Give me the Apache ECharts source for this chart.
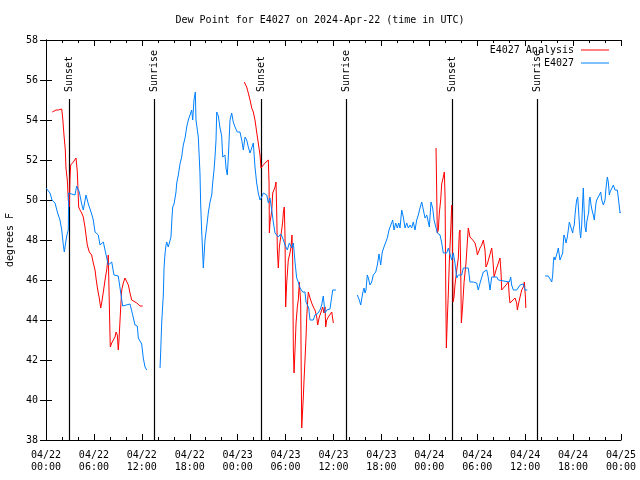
<!DOCTYPE html>
<html>
<head>
<meta charset="utf-8">
<script src="https://cdn.jsdelivr.net/npm/echarts@6/dist/echarts.min.js"></script>
<style>html,body{margin:0;padding:0;background:#fff}#c{width:640px;height:480px}</style>
</head>
<body>
<div id="c"></div>
<script>
// hours since 2024-04-22 00:00 UTC, dew point (F)
const obsSeg1 = [[0.0,50.6],[0.25,50.58],[0.5,50.35],[0.75,50.0],[1.13,49.85],[1.42,49.4],[1.75,49.0],[1.97,48.5],[2.17,47.75],[2.29,47.4],[2.59,48.2],[2.79,48.5],[2.84,50.35],[3.22,50.3],[3.63,50.25],[3.84,50.7],[4.17,50.4],[4.47,49.8],[4.67,49.5],[5.01,50.25],[5.3,49.8],[5.72,49.3],[5.92,49.0],[6.14,48.4],[6.55,48.25],[6.76,47.75],[7.18,47.9],[7.39,47.5],[7.8,46.75],[8.23,46.9],[8.51,46.25],[9.05,46.2],[9.27,45.6],[9.6,44.7],[10.52,44.8],[10.86,44.25],[11.14,43.75],[11.43,43.7],[11.56,43.1],[11.98,42.8],[12.18,42.1],[12.4,41.65],[12.61,41.5]];
const obsSeg2 = [[14.28,41.6],[14.36,42.4],[14.49,43.9],[14.69,45.25],[14.78,46.6],[14.9,47.3],[15.03,47.75],[15.11,47.9],[15.31,47.65],[15.53,47.65],[15.65,48.15],[15.78,49.15],[15.87,49.65],[16.03,49.8],[16.28,50.4],[16.37,50.85],[16.57,51.25],[16.78,51.8],[16.99,52.15],[17.19,52.75],[17.41,53.1],[17.62,53.65],[17.82,54.0],[18.03,54.25],[18.24,54.5],[18.37,54.0],[18.53,55.0],[18.7,55.4],[18.78,54.0],[19.07,53.15],[19.28,51.35],[19.37,49.75],[19.5,48.4],[19.62,47.35],[19.7,46.6],[19.91,48.0],[20.12,48.65],[20.32,49.35],[20.54,49.9],[20.75,50.25],[20.87,50.85],[21.04,51.5],[21.16,52.15],[21.29,53.0],[21.38,54.4],[21.58,54.2],[21.79,53.6],[22.0,53.2],[22.13,52.15],[22.41,52.25],[22.54,51.6],[22.7,51.25],[22.83,52.15],[23.04,54.0],[23.25,54.35],[23.45,53.9],[23.67,53.65],[23.95,53.4],[24.29,53.4],[24.51,53.0],[24.71,52.5],[24.92,53.15],[25.13,53.0],[25.33,52.65],[25.55,52.35],[25.76,52.35],[25.96,52.85],[26.17,51.65],[26.38,50.85],[26.58,50.35],[26.8,50.0],[27.01,50.15],[27.21,50.35],[27.64,50.25],[27.84,49.85],[28.05,50.1],[28.26,49.5],[28.46,48.9],[28.68,48.35],[28.89,48.4],[29.09,48.15],[29.39,48.3],[29.64,48.1],[29.93,47.75],[30.22,47.5],[30.47,47.85],[30.77,47.6],[30.97,47.85],[31.18,46.9],[31.39,46.1],[31.59,45.9],[31.81,45.6],[32.14,45.4],[32.43,45.4],[32.56,44.9],[32.72,44.9],[32.9,44.6],[33.06,44.0],[33.47,44.0],[33.68,44.25],[33.97,44.3],[34.31,44.5],[34.52,44.75],[34.72,45.2],[34.85,45.2],[34.94,44.35],[35.15,44.5],[35.56,44.55],[35.78,44.5],[35.9,45.5],[36.31,45.5]];
const obsSeg3 = [[38.98,45.25],[39.23,45.0],[39.41,44.75],[39.53,44.65],[39.66,45.35],[39.82,45.6],[39.95,45.35],[40.07,45.5],[40.23,46.25],[40.36,46.1],[40.57,45.75],[40.78,45.9],[40.98,46.25],[41.29,46.4],[41.49,46.75],[41.7,47.3],[41.91,46.75],[42.11,47.4],[42.32,47.65],[42.54,47.75],[42.74,48.1],[42.95,48.5],[43.16,48.6],[43.41,49.0],[43.58,48.5],[43.79,48.85],[43.99,48.6],[44.17,48.85],[44.33,48.6],[44.54,49.5],[44.74,49.15],[44.96,48.6],[45.17,48.85],[45.37,48.6],[45.58,48.75],[45.79,48.6],[45.99,48.9],[46.21,48.5],[46.42,49.0],[46.62,49.25],[46.83,49.6],[47.05,49.9],[47.25,49.85],[47.46,49.1],[47.68,49.25],[47.87,48.9],[48.0,48.65],[48.21,49.9],[48.42,49.6],[48.59,49.0],[48.84,49.0],[49.0,48.35],[49.34,48.25],[49.55,47.85],[49.75,47.35],[50.18,47.35],[50.38,47.6],[50.59,47.6],[50.8,47.0],[51.0,47.35],[51.21,46.85],[51.43,46.1],[51.63,46.25],[52.05,46.25],[52.26,46.6],[52.88,46.6],[53.09,45.9],[53.51,45.9],[53.72,46.0],[53.93,45.85],[54.13,45.5],[54.35,45.85],[54.56,45.85],[54.76,46.4],[54.97,46.5],[55.19,46.5],[55.39,46.1],[55.6,45.5],[55.81,46.15],[56.44,46.15],[56.64,46.0],[56.85,45.9],[58.02,45.9],[58.19,46.15],[58.31,45.75],[58.52,45.5],[58.94,45.5],[59.15,45.6],[59.36,45.75],[59.77,45.8],[59.98,45.5],[60.27,45.5]];
const obsSeg4 = [[62.49,46.2],[62.9,46.2],[63.11,46.1],[63.33,45.9],[63.45,46.25],[63.53,46.85],[63.61,47.15],[63.74,47.0],[63.95,47.05],[64.03,47.4],[64.15,47.6],[64.36,47.0],[64.58,47.0],[64.7,47.35],[64.78,47.9],[64.86,48.25],[64.99,48.1],[65.12,47.85],[65.28,48.15],[65.4,48.5],[65.53,48.9],[65.7,48.85],[65.83,48.5],[65.95,48.35],[66.03,48.6],[66.15,48.75],[66.24,49.25],[66.37,49.75],[66.45,50.0],[66.58,50.15],[66.7,49.4],[66.78,48.85],[66.87,48.35],[66.95,48.1],[67.08,48.75],[67.21,50.0],[67.28,50.6],[67.37,49.65],[67.49,48.65],[67.62,48.4],[67.71,48.9],[67.83,49.0],[67.96,49.4],[68.03,50.0],[68.12,50.15],[68.25,49.75],[68.37,49.5],[68.53,49.25],[68.66,49.0],[68.75,49.4],[68.87,49.85],[68.96,50.0],[69.16,50.0],[69.29,50.25],[69.46,50.4],[69.59,50.0],[69.79,49.75],[69.87,49.7],[70.0,50.0],[70.12,50.6],[70.29,51.15],[70.41,50.9],[70.54,50.25],[70.63,50.4],[70.84,50.5],[71.04,50.75],[71.25,50.5],[71.46,50.6],[71.54,50.5],[71.67,50.1],[71.79,50.0],[71.88,49.35],[71.96,49.4]];

const anaSeg1 = [[0.79,54.4],[1.0,54.35],[1.25,54.5],[1.54,54.5],[1.75,54.6],[1.97,54.55],[2.09,54.1],[2.25,53.25],[2.42,52.5],[2.5,51.6],[2.67,51.0],[2.79,50.0],[2.92,49.65],[3.01,51.15],[3.09,51.75],[3.42,51.9],[3.76,52.1],[3.92,51.4],[4.01,50.5],[4.09,49.65],[4.26,49.5],[4.47,49.35],[4.67,49.15],[4.88,48.65],[5.01,48.25],[5.17,47.75],[5.42,47.4],[5.72,47.25],[5.92,46.85],[6.14,46.5],[6.26,46.1],[6.42,45.65],[6.55,45.35],[6.67,45.1],[6.85,44.6],[6.97,44.85],[7.18,45.4],[7.39,46.0],[7.6,46.5],[7.8,47.25],[7.89,45.5],[7.98,43.85],[8.05,42.65],[8.23,42.85],[8.43,43.0],[8.64,43.15],[8.77,43.4],[8.85,43.5],[8.93,43.25],[9.05,42.5],[9.14,43.0],[9.27,44.0],[9.39,44.9],[9.48,45.5],[9.68,45.85],[9.89,46.1],[10.11,46.1],[10.31,45.75],[10.52,45.35],[10.73,45.0],[10.93,44.9],[11.36,44.85],[11.77,44.7],[12.11,44.7]];
const anaSeg2 = [[24.83,55.9],[25.0,56.0],[25.13,55.65],[25.33,55.35],[25.55,55.0],[25.76,54.6],[25.96,54.4],[26.17,54.0],[26.38,53.4],[26.58,52.85],[26.8,52.25],[26.92,51.6],[27.21,51.75],[27.55,51.9],[27.84,52.0],[27.93,50.85],[27.97,48.35],[28.05,48.9],[28.26,49.4],[28.39,50.35],[28.68,50.65],[28.8,50.9],[28.89,49.35],[28.97,47.5],[29.09,46.6],[29.22,47.65],[29.39,48.15],[29.64,48.9],[29.72,49.4],[29.84,49.65],[29.93,48.15],[30.01,44.65],[30.14,45.85],[30.34,47.0],[30.55,47.35],[30.68,47.65],[30.8,48.25],[30.89,47.0],[30.97,42.5],[31.06,41.35],[31.18,42.5],[31.31,43.85],[31.47,44.65],[31.59,45.0],[31.72,45.9],[31.81,45.35],[31.89,44.9],[31.97,40.85],[32.02,38.6],[32.09,39.15],[32.22,40.15],[32.31,41.0],[32.43,42.0],[32.56,43.15],[32.65,44.15],[32.77,45.0],[32.85,45.4],[33.06,45.1],[33.27,44.85],[33.47,44.65],[33.68,44.5],[33.9,44.15],[34.02,43.75],[34.22,44.15],[34.4,44.35],[34.65,44.65],[34.81,44.35],[34.94,44.65],[35.02,43.65],[35.15,44.0],[35.35,44.15],[35.56,44.25],[35.78,44.4],[35.9,44.35],[35.98,43.85]];
const anaSeg3 = [[48.84,52.6],[48.92,50.5],[49.0,48.35],[49.12,48.5],[49.25,49.35],[49.42,50.0],[49.55,50.8],[49.75,51.15],[49.88,51.4],[49.97,50.15],[50.06,45.35],[50.13,42.6],[50.26,44.15],[50.38,45.35],[50.51,47.0],[50.68,48.5],[50.8,49.75],[50.88,48.65],[50.97,44.9],[51.09,45.15],[51.21,45.75],[51.43,46.5],[51.63,47.1],[51.75,48.35],[51.84,48.5],[51.93,46.5],[52.01,43.85],[52.18,44.75],[52.34,45.85],[52.59,46.85],[52.75,47.85],[52.88,48.6],[53.09,48.15],[53.43,48.0],[53.72,47.85],[53.93,47.5],[54.01,47.25],[54.13,47.35],[54.35,47.6],[54.56,47.75],[54.76,48.0],[54.97,47.5],[55.09,46.65],[55.26,46.8],[55.51,46.9],[55.81,47.6],[55.94,47.1],[56.11,46.15],[56.35,46.5],[56.64,46.85],[56.85,47.1],[56.98,46.35],[57.06,45.5],[57.26,45.6],[57.6,45.75],[57.89,45.9],[58.02,45.15],[58.1,44.85],[58.31,44.9],[58.73,45.1],[58.94,44.85],[59.02,44.5],[59.19,44.85],[59.36,45.15],[59.57,45.5],[59.77,45.65],[59.9,45.9],[60.03,45.15],[60.08,44.6]];

const sunTimes = [2.92, 13.56, 26.96, 37.57, 50.88, 61.52];
const sunLabels = ['Sunset', 'Sunrise', 'Sunset', 'Sunrise', 'Sunset', 'Sunrise'];
const tickLabels = ['04/22\n00:00','04/22\n06:00','04/22\n12:00','04/22\n18:00','04/23\n00:00','04/23\n06:00','04/23\n12:00','04/23\n18:00','04/24\n00:00','04/24\n06:00','04/24\n12:00','04/24\n18:00','04/25\n00:00'];
const yTicks = [38, 40, 42, 44, 46, 48, 50, 52, 54, 56, 58];

function joinSegs(segs) {
  const out = [];
  segs.forEach((s, i) => {
    if (i > 0) out.push([s[0][0] - 0.01, null]);
    s.forEach(p => out.push(p));
  });
  return out;
}
const FONT = '"DejaVu Sans Mono", "Liberation Mono", monospace';
const chart = echarts.init(document.getElementById('c'), null, {renderer: 'canvas'});
const xCommon = {
  type: 'value', min: 0, max: 72, interval: 6,
  axisLine: {show: true, lineStyle: {color: '#000', width: 1}},
  axisTick: {show: true, inside: true, length: 6, lineStyle: {color: '#000'}},
  minorTick: {show: true, splitNumber: 3, length: 3, lineStyle: {color: '#000'}},
  splitLine: {show: false}, minorSplitLine: {show: false}
};
const yCommon = {
  type: 'value', min: yTicks[0], max: yTicks[yTicks.length - 1], interval: 2,
  axisLine: {show: true, lineStyle: {color: '#000', width: 1}},
  axisTick: {show: true, inside: true, length: 6, lineStyle: {color: '#000'}},
  splitLine: {show: false}
};
chart.setOption({
  animation: false,
  backgroundColor: '#fff',
  title: {
    text: 'Dew Point for E4027 on 2024-Apr-22 (time in UTC)',
    left: 'center', top: 10,
    textStyle: {fontFamily: FONT, fontSize: 10, fontWeight: 'normal', color: '#000'}
  },
  grid: {left: 46, right: 19, top: 40, bottom: 40, containLabel: false, outerBoundsMode: 'none'},
  legend: [
    {data: ['E4027 Analysis'], right: 31, top: 45, align: 'right', itemWidth: 28, itemHeight: 1, itemGap: 0,
     icon: 'rect', textStyle: {fontFamily: FONT, fontSize: 10, color: '#000', padding: [0, 2, 0, 0]}, padding: 0},
    {data: ['E4027'], right: 31, top: 58, align: 'right', itemWidth: 28, itemHeight: 1, itemGap: 0,
     icon: 'rect', textStyle: {fontFamily: FONT, fontSize: 10, color: '#000', padding: [0, 2, 0, 0]}, padding: 0}
  ],
  xAxis: [
    Object.assign({}, xCommon, {position: 'bottom',
      axisLabel: {show: true, margin: 9, fontFamily: FONT, fontSize: 10, color: '#000', lineHeight: 12,
        formatter: v => tickLabels[Math.round(v / 6)]}}),
    Object.assign({}, xCommon, {position: 'top', axisLabel: {show: false}})
  ],
  yAxis: [
    Object.assign({}, yCommon, {position: 'left', name: 'degrees F', nameLocation: 'middle', nameGap: 31,
      nameTextStyle: {fontFamily: FONT, fontSize: 10, color: '#000'},
      axisLabel: {show: true, margin: 8, fontFamily: FONT, fontSize: 10, color: '#000'}}),
    Object.assign({}, yCommon, {position: 'right', axisLabel: {show: false}})
  ],
  series: [
    {
      type: 'custom', name: 'sun', xAxisIndex: 0, yAxisIndex: 0, silent: true,
      data: sunTimes.map(t => [t, 38]),
      renderItem: function (params, api) {
        const t = api.value(0);
        const b = api.coord([t, 38]);
        const top = api.coord([t, 55.05]);
        return {
          type: 'group',
          children: [
            {type: 'line', shape: {x1: Math.round(b[0]) + 0.5, y1: b[1], x2: Math.round(b[0]) + 0.5, y2: top[1]},
             style: {stroke: '#000', lineWidth: 1.2}},
            {type: 'text', x: Math.round(top[0]) + 0.5, y: top[1] - 7, rotation: Math.PI / 2,
             style: {text: sunLabels[params.dataIndex], fontFamily: FONT, fontSize: 10, fill: '#000',
                     align: 'left', verticalAlign: 'middle'}}
          ]
        };
      }
    },
    {
      type: 'line', name: 'E4027 Analysis', data: joinSegs([anaSeg1, anaSeg2, anaSeg3]),
      showSymbol: false, symbol: 'none', connectNulls: false,
      lineStyle: {color: '#ff0000', width: 1}, itemStyle: {color: '#ff0000'}
    },
    {
      type: 'line', name: 'E4027', data: joinSegs([obsSeg1, obsSeg2, obsSeg3, obsSeg4]),
      showSymbol: false, symbol: 'none', connectNulls: false,
      lineStyle: {color: '#0080ff', width: 1}, itemStyle: {color: '#0080ff'}
    }
  ]
});
</script>
</body>
</html>
